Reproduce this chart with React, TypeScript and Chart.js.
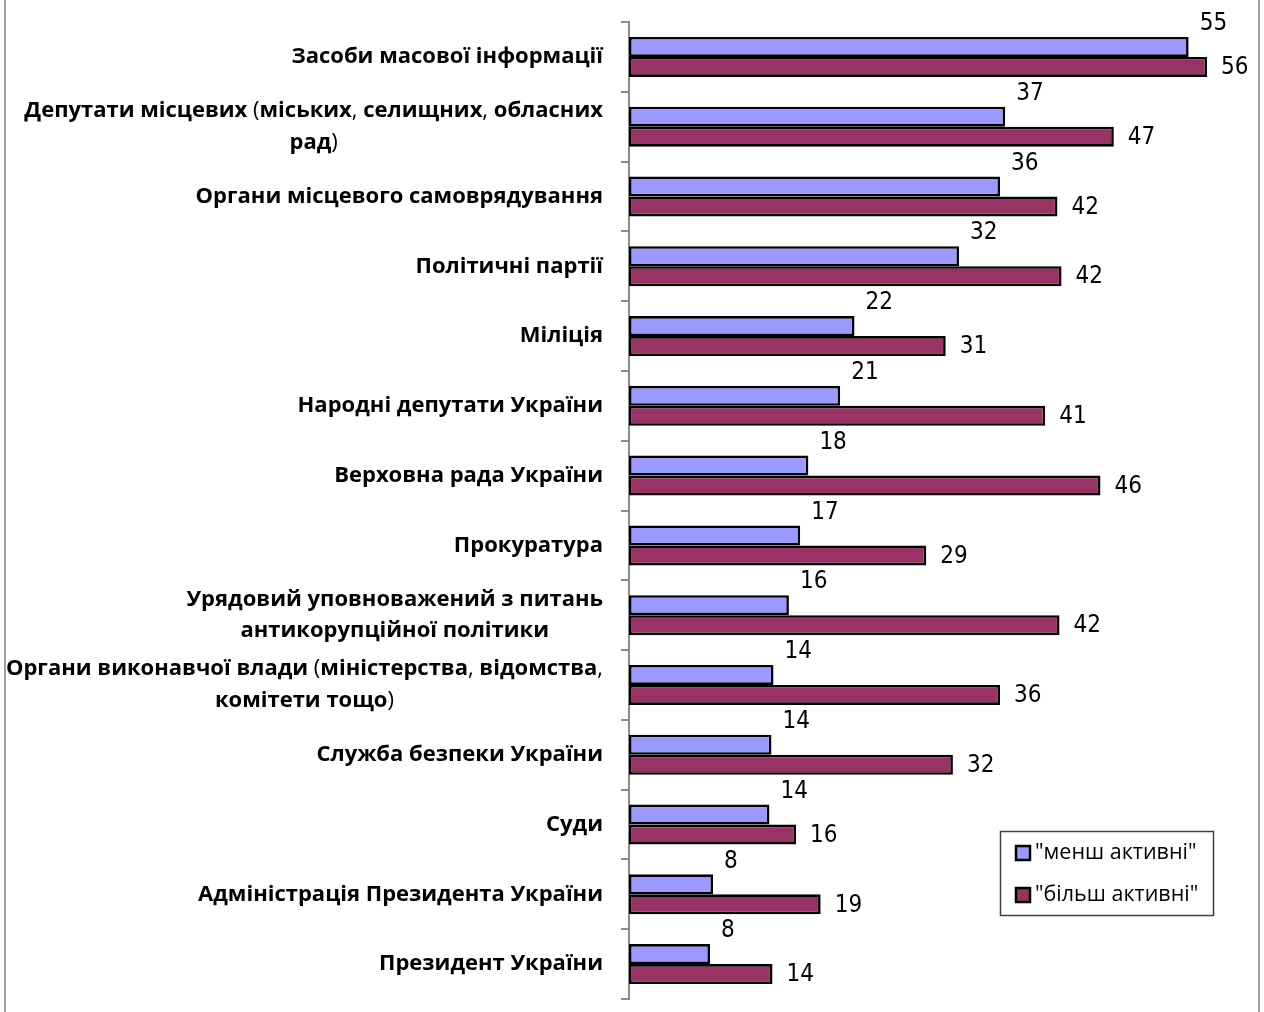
import React, { useEffect, useRef } from 'react';
import { Chart, registerables } from 'chart.js';

Chart.register(...registerables);

const categories: (string | string[])[] = [
  'Засоби масової інформації',
  ['Депутати місцевих (міських, селищних, обласних', 'рад)'],
  'Органи місцевого самоврядування',
  'Політичні партії',
  'Міліція',
  'Народні депутати України',
  'Верховна рада України',
  'Прокуратура',
  ['Урядовий уповноважений з питань', 'антикорупційної політики'],
  ['Органи виконавчої влади (міністерства, відомства,', 'комітети тощо)'],
  'Служба безпеки України',
  'Суди',
  'Адміністрація Президента України',
  'Президент України',
];

const lessActive = [54.6, 36.7, 36.2, 32.2, 22.0, 20.6, 17.5, 16.7, 15.6, 14.1, 13.9, 13.7, 8.2, 7.9];
const moreActive = [56.4, 47.3, 41.8, 42.2, 30.9, 40.6, 46.0, 29.0, 42.0, 36.2, 31.6, 16.3, 18.7, 14.0];

const seriesNames = ['"менш активні"', '"більш активні"'];
const seriesColors = ['#9999FF', '#993366'];

const X_MIN = 0;
const X_MAX = 60;

const CAT_FONT_FAMILY = '"Open Sans", "Noto Sans", sans-serif';
const CAT_FONT_SIZE = 22;
const VALUE_FONT = '24px "Liberation Sans Narrow", "DejaVu Sans Condensed", sans-serif';
const LEGEND_FONT = '21.5px "Open Sans", "Noto Sans", sans-serif';

function drawRuns(ctx: CanvasRenderingContext2D, text: string, xStart: number, y: number) {
  const parts = text.split(/([(),])/).filter((p) => p.length > 0);
  let x = xStart;
  for (const p of parts) {
    const punct = /^[(),]$/.test(p);
    ctx.font = `${punct ? 'normal' : 'bold'} ${CAT_FONT_SIZE}px ${CAT_FONT_FAMILY}`;
    ctx.fillText(p, x, y);
    x += ctx.measureText(p).width;
  }
}

function measureRuns(ctx: CanvasRenderingContext2D, text: string) {
  const parts = text.split(/([(),])/).filter((p) => p.length > 0);
  let w = 0;
  for (const p of parts) {
    const punct = /^[(),]$/.test(p);
    ctx.font = `${punct ? 'normal' : 'bold'} ${CAT_FONT_SIZE}px ${CAT_FONT_FAMILY}`;
    w += ctx.measureText(p).width;
  }
  return w;
}

const customPlugin = {
  id: 'customDecor',
  beforeDraw(chart: any) {
    const ctx = chart.ctx as CanvasRenderingContext2D;
    ctx.save();
    ctx.fillStyle = '#ffffff';
    ctx.fillRect(0, 0, chart.width, chart.height);
    ctx.fillStyle = '#a0a0a0';
    ctx.fillRect(4, 0, 2, chart.height);
    ctx.fillRect(1258, 0, 2, chart.height);
    ctx.restore();
  },
  afterDatasetsDraw(chart: any) {
    const ctx = chart.ctx as CanvasRenderingContext2D;
    const yScale = chart.scales.y;
    ctx.save();
    ctx.fillStyle = '#000000';
    ctx.textBaseline = 'middle';
    ctx.textAlign = 'left';

    // category labels
    const rightEdge = chart.chartArea.left - 26;
    const lineH = 31.5;
    categories.forEach((lab, i) => {
      const lines = Array.isArray(lab) ? lab : [lab];
      const cy = yScale.getPixelForValue(i);
      const widths = lines.map((l) => measureRuns(ctx, l));
      const blockW = Math.max(...widths);
      const centerX = rightEdge - blockW / 2;
      lines.forEach((l, k) => {
        const ly = cy + (k - (lines.length - 1) / 2) * lineH;
        drawRuns(ctx, l, centerX - widths[k] / 2, ly);
      });
    });

    // value labels
    ctx.font = VALUE_FONT;
    [0, 1].forEach((d) => {
      const meta = chart.getDatasetMeta(d);
      const data = d === 0 ? lessActive : moreActive;
      meta.data.forEach((el: any, i: number) => {
        const txt = String(Math.round(data[i]));
        if (d === 0) ctx.fillText(txt, el.x + 11, el.y - 23);
        else ctx.fillText(txt, el.x + 14, el.y + 1);
      });
    });

    // legend
    const lx = 1000, ly = 831, lw = 213, lh = 84;
    ctx.strokeStyle = '#404040';
    ctx.lineWidth = 1.5;
    ctx.strokeRect(lx + 0.5, ly + 0.5, lw, lh);
    ctx.font = LEGEND_FONT;
    seriesNames.forEach((name, k) => {
      const cy = 853 + k * 42;
      ctx.fillStyle = seriesColors[k];
      ctx.fillRect(1016, cy - 7, 14, 14);
      ctx.strokeStyle = '#000000';
      ctx.lineWidth = 2.5;
      ctx.strokeRect(1016, cy - 7, 14, 14);
      ctx.fillStyle = '#000000';
      ctx.fillText(name, 1035, cy);
    });
    ctx.restore();
  },
};

export default function App() {
  const ref = useRef<HTMLCanvasElement | null>(null);
  useEffect(() => {
    if (!ref.current) return;
    const chart = new Chart(ref.current, {
      type: 'bar',
      data: {
        labels: categories as any,
        datasets: [
          {
            label: seriesNames[0],
            data: lessActive,
            backgroundColor: seriesColors[0],
            borderColor: '#000000',
            borderWidth: 2.6,
            borderSkipped: false,
            barPercentage: 1,
            categoryPercentage: 0.573,
          },
          {
            label: seriesNames[1],
            data: moreActive,
            backgroundColor: seriesColors[1],
            borderColor: '#000000',
            borderWidth: 2.6,
            borderSkipped: false,
            barPercentage: 1,
            categoryPercentage: 0.573,
          },
        ],
      },
      options: {
        indexAxis: 'y',
        animation: false,
        responsive: false,
        devicePixelRatio: 1,
        layout: { padding: { left: 0, right: 20, top: 22, bottom: 13 } },
        plugins: {
          legend: { display: false },
          tooltip: { enabled: false },
        },
        scales: {
          x: { display: false, min: X_MIN, max: X_MAX },
          y: {
            position: 'left',
            offset: true,
            grid: {
              display: true,
              offset: true,
              drawOnChartArea: false,
              drawTicks: true,
              tickLength: 8,
              color: '#8c8c8c',
              lineWidth: 2,
            },
            border: { display: true, color: '#8c8c8c', width: 2 },
            ticks: { display: false },
            afterFit: (scale: any) => {
              scale.width = 629;
            },
          },
        },
      },
      plugins: [customPlugin],
    } as any);
    return () => chart.destroy();
  }, []);
  return (
    <div style={{ position: 'absolute', left: 0, top: 0, width: 1264, height: 1012 }}>
      <canvas ref={ref} width={1264} height={1012} style={{ display: 'block' }} />
    </div>
  );
}
